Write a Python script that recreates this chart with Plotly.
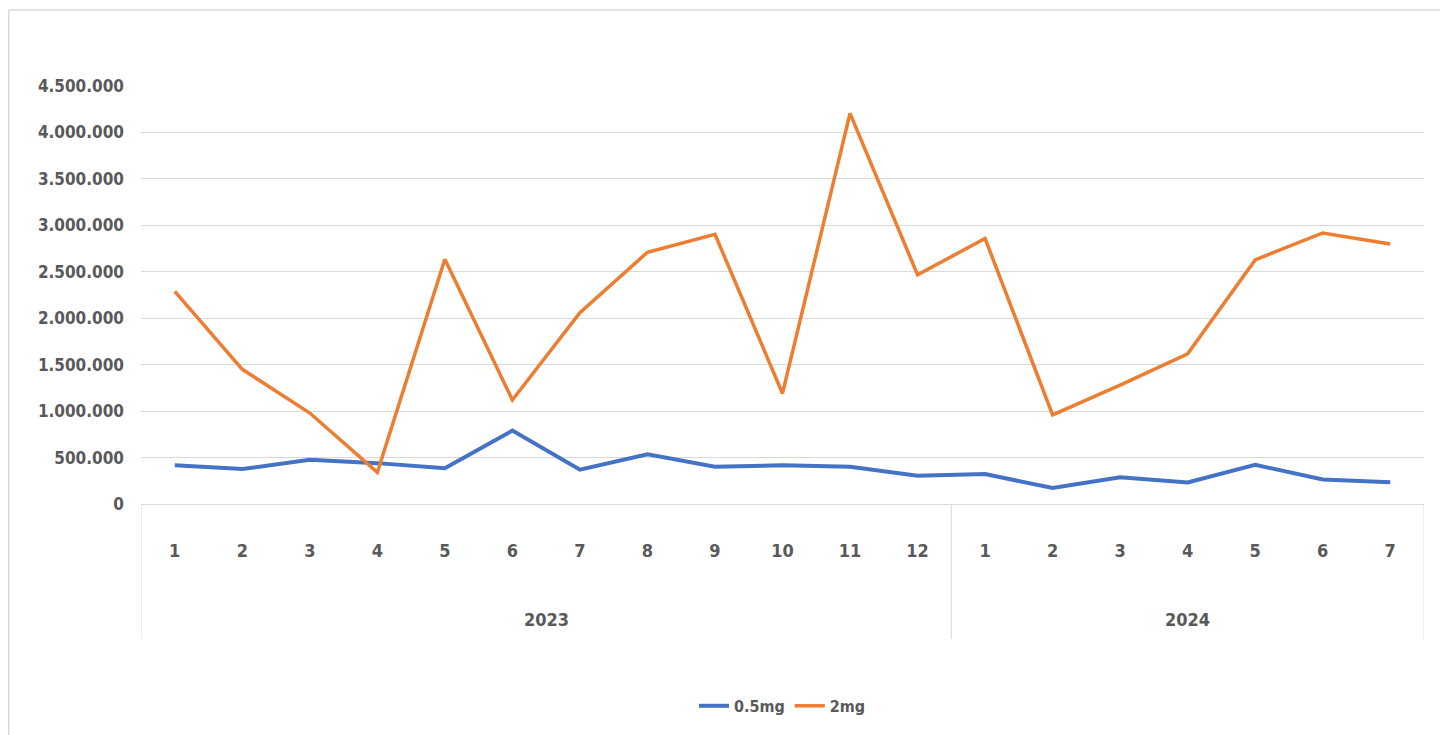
import plotly.graph_objects as go

years = ["2023"] * 12 + ["2024"] * 7
months = [str(m) for m in range(1, 13)] + [str(m) for m in range(1, 8)]

dose_05mg = [418000, 376000, 476000, 440000, 386000, 790000, 369000, 535000, 400000, 418000,
             400000, 305000, 322000, 173000, 287000, 231000, 422000, 263000, 234000]
dose_2mg = [2290000, 1450000, 979000, 340000, 2635000, 1120000, 2060000, 2710000, 2904000, 1190000,
            4205000, 2468000, 2858000, 960000, 1280000, 1617000, 2628000, 2918000, 2798000]

y_ticks = [0, 500000, 1000000, 1500000, 2000000, 2500000, 3000000, 3500000, 4000000, 4500000]

FONT = "DejaVu Sans Condensed, Liberation Sans Narrow, sans-serif"
GREY = "#595959"
GRID = "#D9D9D9"

idx = list(range(len(months)))

fig = go.Figure()

fig.add_trace(go.Scatter(
    x=idx, y=dose_05mg, mode="lines", name="0.5mg",
    line=dict(color="#4472C4", width=4)
))
fig.add_trace(go.Scatter(
    x=idx, y=dose_2mg, mode="lines", name="2mg",
    line=dict(color="#ED7D31", width=3.5)
))

# year group labels and dividers below the month labels
groups = []
for i, yr in enumerate(years):
    if not groups or groups[-1][0] != yr:
        groups.append([yr, i, i])
    else:
        groups[-1][2] = i

for yr, start, end in groups:
    fig.add_annotation(
        x=(start + end) / 2, y=-0.276, xref="x", yref="paper",
        text=yr, showarrow=False,
        font=dict(family=FONT, size=18, color=GREY, weight="bold"), yanchor="middle"
    )
    fig.add_shape(type="line", xref="x", yref="paper",
                  x0=start - 0.5, x1=start - 0.5, y0=0, y1=-0.323,
                  line=dict(color=GRID, width=1))
fig.add_shape(type="line", xref="x", yref="paper",
              x0=len(idx) - 0.5, x1=len(idx) - 0.5, y0=0, y1=-0.323,
              line=dict(color=GRID, width=1))

# chart frame (top and left edges)
fig.add_shape(type="line", xref="paper", yref="paper",
              x0=-0.1031, x1=1.0187, y0=1.182, y1=1.182,
              line=dict(color=GRID, width=1.5))
fig.add_shape(type="line", xref="paper", yref="paper",
              x0=-0.1031, x1=-0.1031, y0=1.182, y1=-0.6,
              line=dict(color=GRID, width=1.5))

fig.update_layout(
    width=1440, height=727,
    margin=dict(l=133, r=24, t=78, b=225),
    paper_bgcolor="white", plot_bgcolor="white",
    separators=",.",
    font=dict(family=FONT, size=17, color=GREY),
    showlegend=True,
    legend=dict(orientation="h", x=0.5, xanchor="center", y=-0.483, yanchor="middle",
                font=dict(family=FONT, size=16, color=GREY, weight="bold"), itemwidth=30,
                traceorder="normal"),
    xaxis=dict(
        range=[-0.5, len(idx) - 0.5],
        tickvals=idx, ticktext=months,
        showgrid=False, zeroline=False,
        showline=True, linecolor=GRID, linewidth=1,
        ticks="", ticklabelstandoff=30,
        tickfont=dict(family=FONT, size=18, color=GREY, weight="bold")
    ),
    yaxis=dict(
        range=[0, 4500000],
        tickvals=y_ticks,
        tickformat=",d",
        showgrid=True, gridcolor=GRID, gridwidth=1,
        zeroline=False, showline=False,
        ticks="", ticklabelstandoff=16,
        tickfont=dict(family=FONT, size=17, color=GREY, weight="bold")
    )
)

fig.write_html("out.html")
